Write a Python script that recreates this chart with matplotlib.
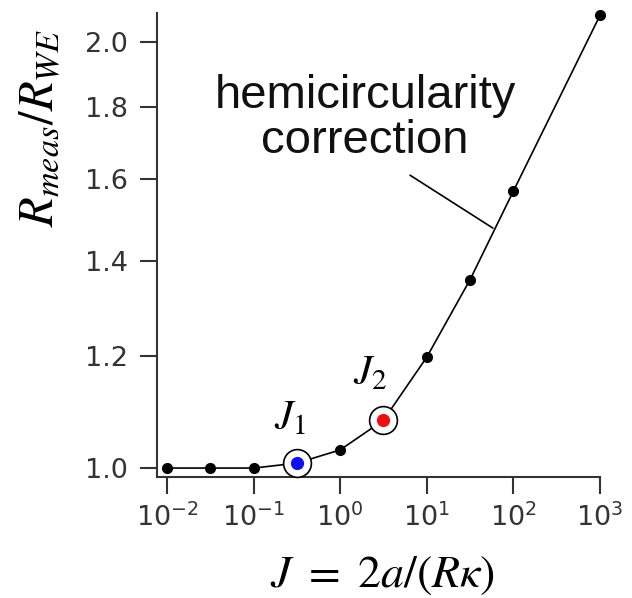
import numpy as np
import matplotlib
matplotlib.use("Agg")
import matplotlib.pyplot as plt
from matplotlib.ticker import FixedLocator, NullLocator, FixedFormatter

plt.rcParams['mathtext.fontset'] = 'stix'

# data
J_vals = [0.01, 0.0316, 0.1, 0.316, 1.0, 3.16, 10.0, 31.6, 100.0, 1000.0]
R_ratio = [1.000, 1.000, 1.000, 1.008, 1.030, 1.081, 1.198, 1.359, 1.570, 2.090]
J1 = (0.316, 1.008)
J2 = (3.16, 1.081)

y_ticks = [1.0, 1.2, 1.4, 1.6, 1.8, 2.0]
y_ticklabels = ['1.0', '1.2', '1.4', '1.6', '1.8', '2.0']
x_ticks = [1e-2, 1e-1, 1e0, 1e1, 1e2, 1e3]
x_ticklabels = [r'$\mathdefault{10^{-2}}$', r'$\mathdefault{10^{-1}}$', r'$\mathdefault{10^{0}}$',
                r'$\mathdefault{10^{1}}$', r'$\mathdefault{10^{2}}$', r'$\mathdefault{10^{3}}$']

fig = plt.figure(figsize=(6.32, 5.98), dpi=100)
ax = fig.add_axes([0.2484, 0.2023, 0.7010, 0.7760])

ax.plot(J_vals, R_ratio, color='black', lw=1.2, marker='o', ms=7,
        mfc='black', mec='black', clip_on=False, zorder=3)

# highlighted points
for (jx, jy), col in [(J1, '#1010ee'), (J2, '#ee1010')]:
    ax.plot([jx], [jy], marker='o', ms=20, mfc='white', mec='black', mew=1.2,
            ls='none', clip_on=False, zorder=4)
    ax.plot([jx], [jy], marker='o', ms=8.5, mfc=col, mec=col, ls='none',
            clip_on=False, zorder=5)

ax.annotate(r'$J_1$', xy=J1, xytext=(-7, 46), textcoords='offset pixels',
            ha='center', va='center', fontsize=30)
ax.annotate(r'$J_2$', xy=J2, xytext=(-13, 48), textcoords='offset pixels',
            ha='center', va='center', fontsize=30)

ax.text(1.934, 1.670, 'hemicircularity\ncorrection', ha='center', va='baseline',
        multialignment='center', fontsize=34, family='Liberation Sans',
        linespacing=1.02, color='#111111')
ax.annotate('', xy=(58, 1.478), xytext=(6.4, 1.611),
            arrowprops=dict(arrowstyle='-', color='black', lw=1.2,
                            shrinkA=0, shrinkB=0))

ax.set_xscale('log')
ax.set_yscale('log')
ax.set_xlim(0.00767, 1000)
ax.set_ylim(0.9855, 2.098)

ax.xaxis.set_major_locator(FixedLocator(x_ticks))
ax.xaxis.set_major_formatter(FixedFormatter(x_ticklabels))
ax.xaxis.set_minor_locator(NullLocator())
ax.yaxis.set_major_locator(FixedLocator(y_ticks))
ax.yaxis.set_major_formatter(FixedFormatter(y_ticklabels))
ax.yaxis.set_minor_locator(NullLocator())

for side in ['top', 'right']:
    ax.spines[side].set_visible(False)
for side in ['left', 'bottom']:
    ax.spines[side].set_color('#333333')
    ax.spines[side].set_linewidth(1.5)

ax.tick_params(axis='both', which='major', direction='out', length=12, width=1.5,
               color='#333333', labelcolor='#333333', labelsize=19.5)
ax.tick_params(axis='x', pad=7)
ax.tick_params(axis='y', pad=9)

ax.set_xlabel(r'$J\ =\ 2a/(R\kappa)$', fontsize=33, ha='center', va='center')
ax.xaxis.set_label_coords(0.51, -0.211)
ax.set_ylabel(r'$R_{meas}/R_{WE}$', fontsize=35, ha='center', va='center')
ax.yaxis.set_label_coords(-0.264, 0.752)

fig.savefig('out.png', dpi=100)
